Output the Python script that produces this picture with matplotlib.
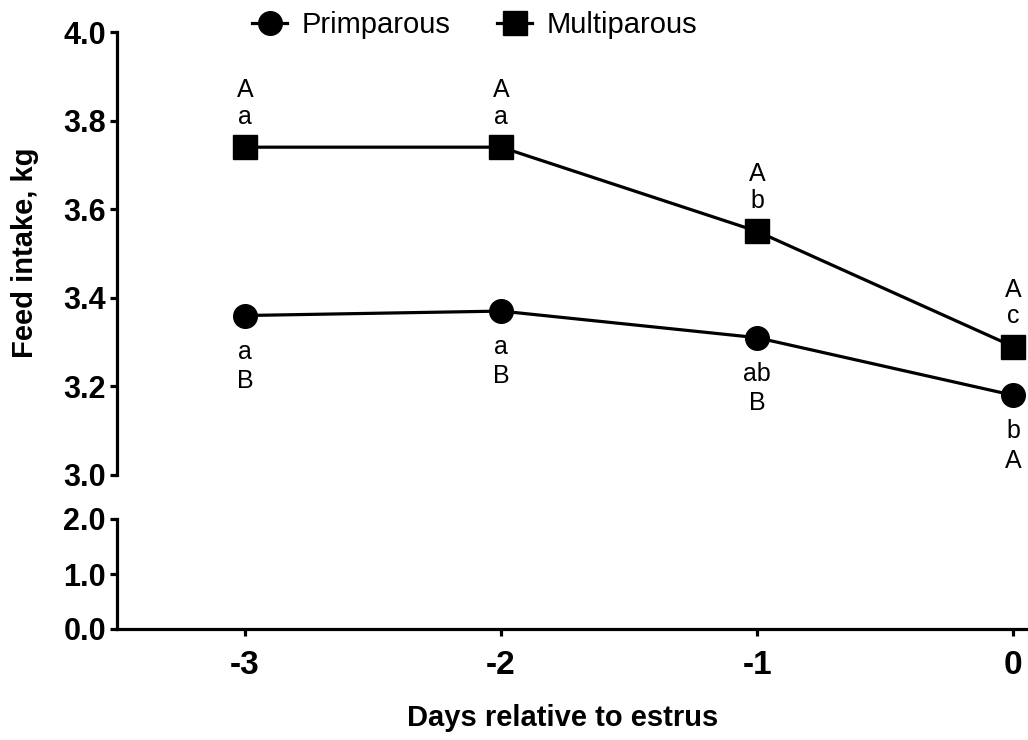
"""Feed intake around estrus: primiparous vs multiparous sows, broken y-axis."""

import matplotlib

matplotlib.use("Agg")
import matplotlib.pyplot as plt

plt.rcParams["font.family"] = ["Liberation Sans", "DejaVu Sans"]

days = [-3, -2, -1, 0]
primiparous = [3.36, 3.37, 3.31, 3.18]
multiparous = [3.74, 3.74, 3.55, 3.29]
# significance letters: (upper line, lower line) for each day
prim_letters = [("a", "B"), ("a", "B"), ("ab", "B"), ("b", "A")]
multi_letters = [("A", "a"), ("A", "a"), ("A", "b"), ("A", "c")]

top_ticks = [3.0, 3.2, 3.4, 3.6, 3.8, 4.0]
bottom_ticks = [0.0, 1.0, 2.0]

W, H = 1028, 740
fig = plt.figure(figsize=(W / 100, H / 100), dpi=100)

left = 117 / W
width = 909 / W
ax_top = fig.add_axes([left, 1 - 475 / H, width, (475 - 32) / H])
ax_bot = fig.add_axes([left, 1 - 629 / H, width, (629 - 519) / H])

lw = 2.3
for ax in (ax_top, ax_bot):
    ax.set_xlim(-3.5, 0.05)
    for side in ("top", "right"):
        ax.spines[side].set_visible(False)
    ax.spines["left"].set_linewidth(lw)
    ax.spines["bottom"].set_linewidth(lw)
    ax.tick_params(width=lw, length=5, labelsize=22, pad=3)

ax_top.spines["bottom"].set_visible(False)
ax_top.tick_params(axis="x", bottom=False, labelbottom=False)
ax_top.set_ylim(3.0, 4.0)
ax_top.set_yticks(top_ticks)
ax_top.set_yticklabels([f"{t:.1f}" for t in top_ticks], fontweight="bold")

ax_bot.set_ylim(0.0, 2.0)
ax_bot.set_yticks(bottom_ticks)
ax_bot.set_yticklabels([f"{t:.1f}" for t in bottom_ticks], fontweight="bold")
ax_bot.set_xticks(days)
ax_bot.set_xticklabels([str(d) for d in days], fontweight="bold", fontsize=24)
ax_bot.tick_params(axis="x", pad=10)

ax_top.plot(days, primiparous, color="black", lw=lw, marker="o", ms=17,
            label="Primparous", clip_on=False, zorder=3)
ax_top.plot(days, multiparous, color="black", lw=lw, marker="s", ms=17,
            label="Multiparous", clip_on=False, zorder=3)

letter_kw = dict(textcoords="offset points", ha="center", va="center",
                 fontsize=18, annotation_clip=False)
for x, y, (l1, l2) in zip(days, multiparous, multi_letters):
    ax_top.annotate(l1, (x, y), xytext=(0, 41), **letter_kw)
    ax_top.annotate(l2, (x, y), xytext=(0, 22), **letter_kw)
for x, y, (l1, l2) in zip(days, primiparous, prim_letters):
    ax_top.annotate(l1, (x, y), xytext=(0, -26), **letter_kw)
    ax_top.annotate(l2, (x, y), xytext=(0, -47), **letter_kw)

fig.legend(loc="upper center", bbox_to_anchor=(0.462, 1.02), ncol=2,
           frameon=False, fontsize=21, handlelength=1.2, columnspacing=1.6,
           handletextpad=0.5)

fig.text(25 / W, 1 - 253 / H, "Feed intake, kg", rotation=90, ha="center",
         va="center", fontsize=21, fontweight="bold")
fig.text(563 / W, 1 - 718 / H, "Days relative to estrus", ha="center",
         va="center", fontsize=21, fontweight="bold")

fig.savefig("out.png", dpi=100)
